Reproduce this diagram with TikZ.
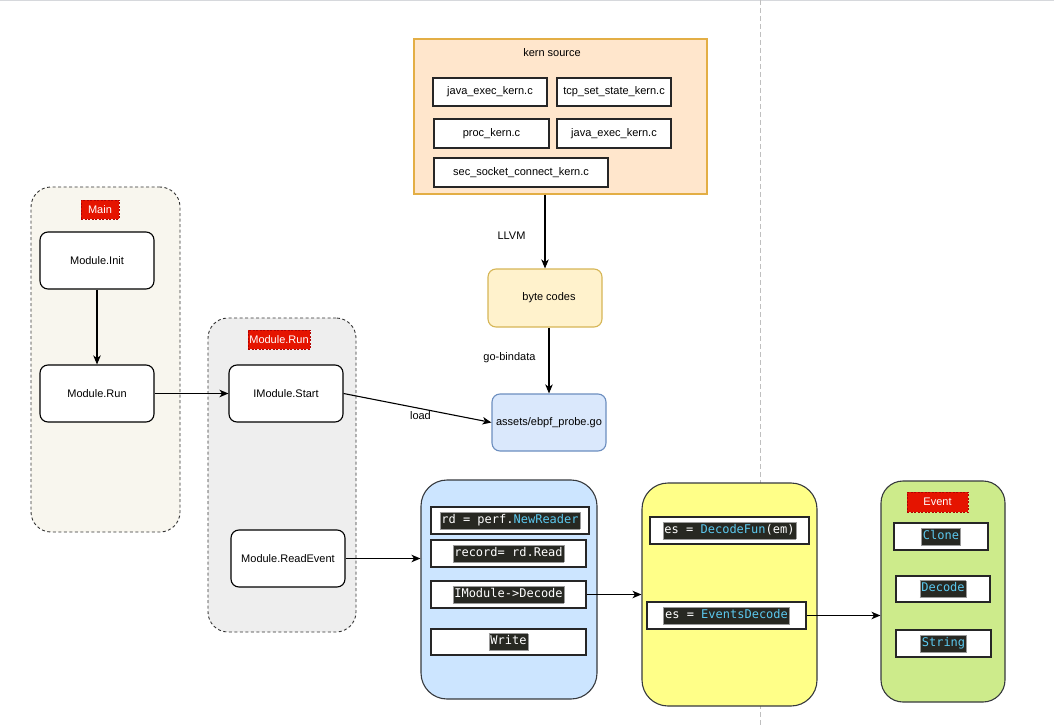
\documentclass[tikz,border=0pt]{standalone}
\usepackage{fontspec}
\setmainfont{Liberation Sans}
\setmonofont{DejaVu Sans Mono}
\usetikzlibrary{arrows.meta,calc}
\definecolor{kernfill}{HTML}{FFE6CC}
\definecolor{kernedge}{HTML}{E3AE45}
\definecolor{bytefill}{HTML}{FFF2CC}
\definecolor{byteedge}{HTML}{D6B656}
\definecolor{assetfill}{HTML}{DAE8FC}
\definecolor{assetedge}{HTML}{6C8EBF}
\definecolor{mainfill}{HTML}{F8F6EE}
\definecolor{runfill}{HTML}{EEEEEE}
\definecolor{redfill}{HTML}{E51400}
\definecolor{rededge}{HTML}{B20000}
\definecolor{bluefill}{HTML}{CCE5FF}
\definecolor{yelfill}{HTML}{FFFF88}
\definecolor{greenfill}{HTML}{CDEB8B}
\definecolor{contedge}{HTML}{36393D}
\definecolor{codebg}{HTML}{272822}
\definecolor{codeedge}{HTML}{9A9A9A}
\definecolor{codecyan}{HTML}{5BC8EE}
\definecolor{pagegray}{HTML}{D6D8DC}
\newcommand{\cdx}[1]{{\setlength\fboxsep{1.2pt}\setlength\fboxrule{0.6pt}\fcolorbox{codeedge}{codebg}{\fontsize{12}{14}\selectfont\strut\ttfamily\color{white}#1}}}
\newcommand{\cy}[1]{\textcolor{codecyan}{#1}}
\begin{document}
\begin{tikzpicture}[x=1pt,y=-1pt,
  every node/.style={font=\fontsize{11}{13}\selectfont, inner sep=0pt, align=center},
  sqbox/.style={draw=black!85, line width=1.2pt, fill=white, rectangle},
  rbox/.style={draw=black, line width=1.1pt, fill=white, rounded corners=8pt},
  dcont/.style={draw=black!80, line width=0.9pt, dash pattern=on 3pt off 2.5pt, rounded corners=20pt},
  scont/.style={draw=contedge, line width=1.1pt, rounded corners=26pt},
  redlbl/.style={fill=redfill, draw=rededge, dash pattern=on 2pt off 1.5pt, line width=0.8pt, text=white},
  arr/.style={line width=1.1pt, -{Stealth[length=9pt,width=7.5pt,inset=2.5pt]}},
  lbl/.style={font=\fontsize{11}{13}\selectfont}
]
\useasboundingbox (0,0) rectangle (1054,727);
% page break lines
\draw[pagegray, line width=1.5pt] (0,0.75) -- (1054,0.75);
\draw[black!25, line width=1pt, dash pattern=on 5pt off 3pt] (760,0) -- (760,727);

% kern source
\node[draw=kernedge, fill=kernfill, line width=1.5pt, minimum width=293, minimum height=155] (kern) at (560.5,116.5) {};
\node (kernlbl) at (552,53) {kern source};
\node[sqbox, minimum width=114, minimum height=28] (java1) at (490,92) {java\_exec\_kern.c};
\node[sqbox, minimum width=114, minimum height=28] (tcp) at (614,92) {tcp\_set\_state\_kern.c};
\node[sqbox, minimum width=115, minimum height=29] (proc) at (491.5,133.5) {proc\_kern.c};
\node[sqbox, minimum width=114, minimum height=29] (java2) at (614,133.5) {java\_exec\_kern.c};
\node[sqbox, minimum width=174, minimum height=29] (sec) at (521,172.5) {sec\_socket\_connect\_kern.c};

\node[draw=byteedge, fill=bytefill, line width=1.1pt, rounded corners=8pt, minimum width=114, minimum height=58] (bytes) at (545,298) {\hspace*{8pt}byte codes};
\node[draw=assetedge, fill=assetfill, line width=1.1pt, rounded corners=8pt, minimum width=114, minimum height=57] (assets) at (549,422.5) {assets/ebpf\_probe.go};

% Main container
\node[dcont, fill=mainfill, minimum width=149, minimum height=345] (mainc) at (105.5,359.5) {};
\node[redlbl, minimum width=38, minimum height=19] (mainlbl) at (100,209.5) {Main};
\node[rbox, minimum width=114, minimum height=57] (init) at (97,260.5) {Module.Init};
\node[rbox, minimum width=114, minimum height=57] (mrun) at (97,393.5) {Module.Run};

% Module.Run container
\node[dcont, fill=runfill, minimum width=148, minimum height=314] (runc) at (282,475) {};
\node[redlbl, minimum width=62, minimum height=19] (runlbl) at (279,339.5) {Module.Run};
\node[rbox, minimum width=114, minimum height=57] (start) at (286,393.5) {IModule.Start};
\node[rbox, minimum width=114, minimum height=57] (readev) at (288,558.5) {Module.ReadEvent};

% blue container
\node[scont, fill=bluefill, minimum width=176, minimum height=219] (bluec) at (509,589.5) {};
\node[sqbox, minimum width=158, minimum height=27] (rd) at (510,520.5) {\cdx{rd = perf.\cy{NewReader}}};
\node[sqbox, minimum width=155, minimum height=27] (record) at (508.5,553.5) {\cdx{record= rd.Read}};
\node[sqbox, minimum width=155, minimum height=27] (imdec) at (508.5,594.5) {\cdx{IModule->Decode}};
\node[sqbox, minimum width=155, minimum height=26] (write) at (508.5,642) {\cdx{Write}};

% yellow container
\node[scont, fill=yelfill, minimum width=175, minimum height=223] (yelc) at (729.5,594.5) {};
\node[sqbox, minimum width=159, minimum height=27] (dfun) at (729.5,530.5) {\cdx{es = \cy{DecodeFun}(em)}};
\node[sqbox, minimum width=159, minimum height=27] (evd) at (726.5,615.5) {\cdx{es = \cy{EventsDecode}}};

% green container
\node[scont, fill=greenfill, rounded corners=22pt, minimum width=124, minimum height=221] (greenc) at (943,591.5) {};
\node[redlbl, minimum width=61, minimum height=20] (evlbl) at (937.5,502) {Event};
\node[sqbox, minimum width=94, minimum height=27] (clone) at (941,536.5) {\cdx{\cy{Clone}}};
\node[sqbox, minimum width=94, minimum height=26] (decode) at (943,589) {\cdx{\cy{Decode}}};
\node[sqbox, minimum width=95, minimum height=27] (string) at (943.5,643.5) {\cdx{\cy{String}}};

% connectors
\draw[arr] (kern.south -| bytes.north) -- (bytes.north) node[lbl, pos=0.56, left=19pt] {LLVM};
\draw[arr] (bytes.south -| assets.north) -- (assets.north) node[lbl, pos=0.45, left=13pt] {go-bindata};
\draw[arr] (init.south) -- (mrun.north);
\draw[arr] (mrun.east) -- (start.west);
\draw[arr] (start.east) -- (assets.west) node[lbl, pos=0.52, below=2pt] {load};
\draw[arr] (readev.east) -- (readev.east -| bluec.west);
\draw[arr] (imdec.east) -- (imdec.east -| yelc.west);
\draw[arr] (evd.east) -- (evd.east -| greenc.west);
\end{tikzpicture}
\end{document}
